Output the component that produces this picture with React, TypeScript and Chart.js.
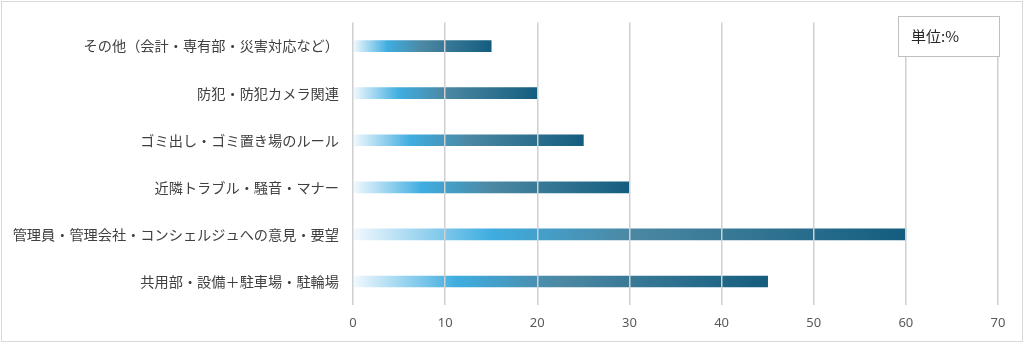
import React, { useEffect, useRef } from "react";
import { Chart, registerables } from "chart.js";

Chart.register(...registerables);

const categories = [
  "その他（会計・専有部・災害対応など）",
  "防犯・防犯カメラ関連",
  "ゴミ出し・ゴミ置き場のルール",
  "近隣トラブル・騒音・マナー",
  "管理員・管理会社・コンシェルジュへの意見・要望",
  "共用部・設備＋駐車場・駐輪場",
];
const values = [15, 20, 25, 30, 60, 45];
const xMin = 0;
const xMax = 70;
const xStep = 10;
const unitLabel = "単位:%";

const W = 1024;
const H = 343;

const framePlugin = {
  id: "frame",
  beforeDraw(chart: any) {
    const ctx = chart.ctx;
    ctx.save();
    ctx.fillStyle = "#ffffff";
    ctx.fillRect(0, 0, chart.width, chart.height);
    ctx.strokeStyle = "#D9D9D9";
    ctx.lineWidth = 1;
    ctx.strokeRect(1.5, 1.5, chart.width - 3, chart.height - 3);
    ctx.restore();
  },
  afterDraw(chart: any) {
    const ctx = chart.ctx;
    ctx.save();
    const x = 898.5, y = 16.5, w = 101, h = 40;
    ctx.fillStyle = "#ffffff";
    ctx.fillRect(x, y, w, h);
    ctx.strokeStyle = "#BFBFBF";
    ctx.lineWidth = 1;
    ctx.strokeRect(x, y, w, h);
    ctx.fillStyle = "#262626";
    ctx.font = "15px 'Noto Sans CJK JP', sans-serif";
    ctx.textBaseline = "middle";
    ctx.textAlign = "left";
    ctx.fillText(unitLabel, 911, y + h / 2);
    ctx.restore();
  },
};

function barGradient(context: any) {
  const chart = context.chart;
  const area = chart.chartArea;
  if (!area) return "#3FADE0";
  const xs = chart.scales.x;
  const v = context.raw as number;
  const x0 = xs.getPixelForValue(0);
  const x1 = xs.getPixelForValue(v);
  if (!isFinite(x0) || !isFinite(x1) || x1 === x0) return "#3FADE0";
  const g = chart.ctx.createLinearGradient(x0, 0, x1, 0);
  g.addColorStop(0, "#F2F9FE");
  g.addColorStop(0.25, "#3FADE0");
  g.addColorStop(0.5, "#4C88A3");
  g.addColorStop(1, "#145D7F");
  return g;
}

export default function App() {
  const ref = useRef<HTMLCanvasElement | null>(null);
  useEffect(() => {
    document.body.style.margin = "0";
    const canvas = ref.current;
    if (!canvas) return;
    const chart = new Chart(canvas, {
      type: "bar",
      data: {
        labels: categories,
        datasets: [
          {
            data: values,
            backgroundColor: barGradient as any,
            borderWidth: 0,
            barThickness: 11,
          },
        ],
      },
      plugins: [framePlugin],
      options: {
        indexAxis: "y",
        animation: false,
        responsive: false,
        maintainAspectRatio: false,
        layout: { padding: { top: 17, right: 26, bottom: 0, left: 0 } },
        plugins: {
          legend: { display: false },
          tooltip: { enabled: false },
        },
        scales: {
          x: {
            min: xMin,
            max: xMax,
            ticks: {
              stepSize: xStep,
              color: "#595959",
              padding: 10,
              font: { family: "'Noto Sans', sans-serif", size: 13 },
            },
            grid: {
              color: "#D0D0D0",
              lineWidth: 1.5,
              drawTicks: false,
              z: 1,
            } as any,
            border: { display: false },
            afterFit(scale: any) {
              scale.height = 38;
            },
          },
          y: {
            ticks: {
              color: "#404040",
              padding: 14,
              font: { family: "'Noto Sans CJK JP', sans-serif", size: 14.2 },
            },
            grid: { display: false, drawTicks: false },
            border: { display: false },
            afterFit(scale: any) {
              scale.width = 353;
            },
          },
        },
      },
    });
    return () => chart.destroy();
  }, []);
  return (
    <div style={{ width: W, height: H }}>
      <canvas ref={ref} width={W} height={H} />
    </div>
  );
}
